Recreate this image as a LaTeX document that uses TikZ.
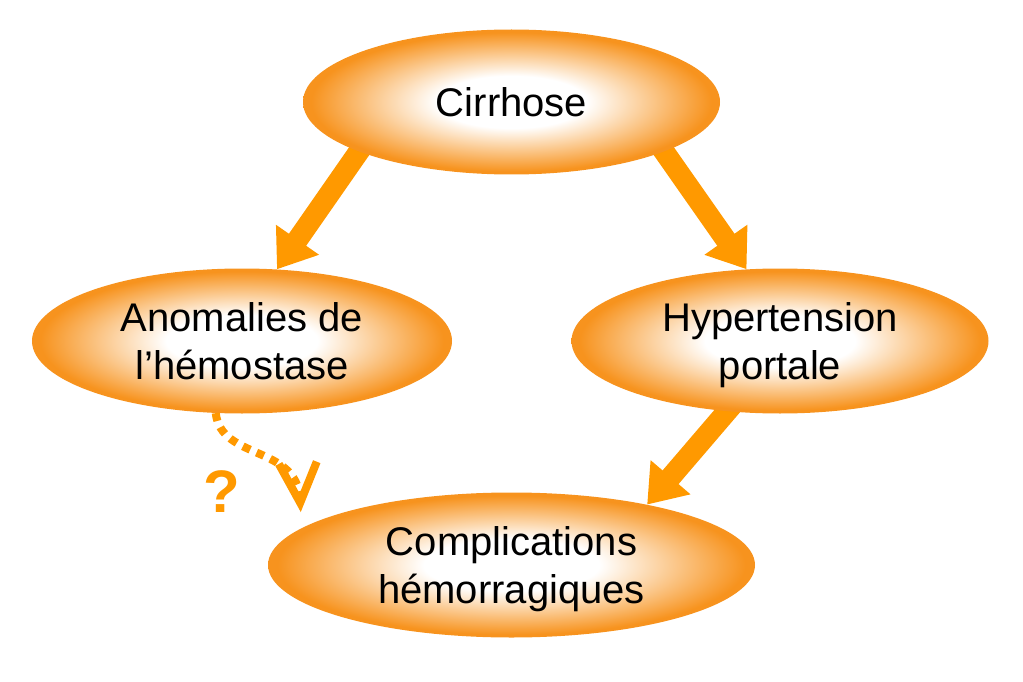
\documentclass[tikz,border=0pt]{standalone}
\usepackage{fontspec}
\setmainfont{Liberation Sans}
\usetikzlibrary{arrows.meta,positioning,shapes.geometric,backgrounds}

\definecolor{bubbleorange}{RGB}{247,147,30}
\definecolor{arroworange}{RGB}{255,153,0}
\pgfdeclareradialshading{glow}{\pgfpoint{0bp}{0bp}}{color(0bp)=(white); color(9bp)=(white); color(24bp)=(bubbleorange); color(50bp)=(bubbleorange)}

\begin{document}
\begin{tikzpicture}[
		on grid,
		bubble/.style={ellipse, shade, shading=glow, minimum width=417pt, minimum height=145pt, inner sep=0pt, align=center, text depth=0pt, font=\fontsize{40}{48}\selectfont},
		flow/.style={draw=arroworange, line width=21pt, shorten <=-20pt, -{Triangle[width=50pt, length=36pt]}},
		maybe/.style={draw=arroworange, line width=8pt, dash pattern=on 8pt off 7pt, -{Straight Barb[width=38pt, length=40pt]}},
		query/.style={text=arroworange, font=\fontsize{60}{60}\selectfont\bfseries},
	]
		\useasboundingbox (0,0) rectangle (1023pt,-682pt);
		\node (cir) [bubble] at (511.5pt,-102pt) {Cirrhose};
		\node (ano) [bubble, minimum width=420pt, below left=239pt and 269.5pt of cir] {Anomalies de\\l’hémostase};
		\node (hyp) [bubble, below right=239pt and 268.5pt of cir] {Hypertension\\portale};
		\node (com) [bubble, minimum width=487pt, below=463pt of cir] {Complications\\hémorragiques};
		\node (qm) [query, below left=151pt and 20pt of ano] {?};
		
		\begin{pgfonlayer}{background}
			\draw[flow] (cir.198) -- (ano.64);
			\draw[flow] (cir.342) -- (hyp.115);
			\draw[flow] (hyp.233) -- (com.24);
		\end{pgfonlayer}
		
		\draw[maybe, shorten >=16pt] (ano.250) .. controls +(5pt,-47pt) and +(-5pt,83pt) .. (com.170);
	\end{tikzpicture}
\end{document}
